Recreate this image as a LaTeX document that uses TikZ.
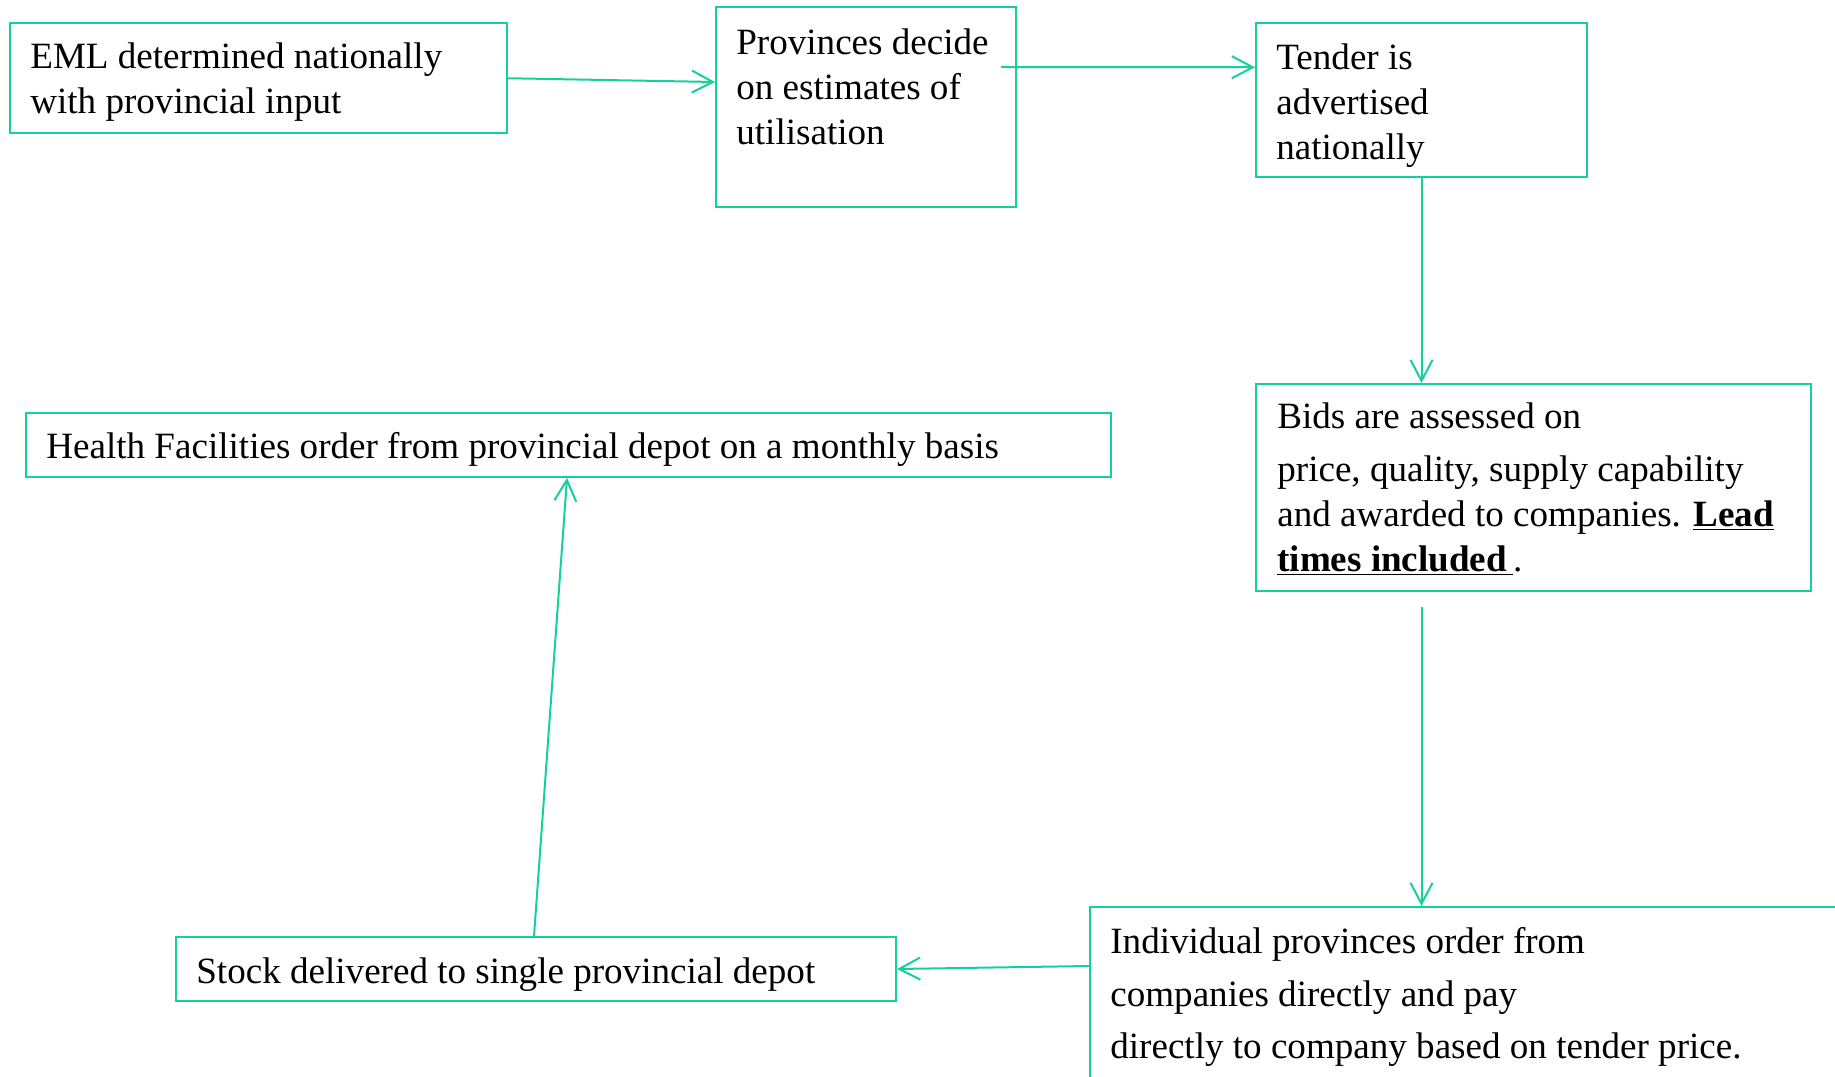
\documentclass[tikz,border=0pt]{standalone}
\usepackage{fontspec}
\setmainfont{Liberation Serif}
\usetikzlibrary{arrows.meta,calc}
\definecolor{flowgreen}{HTML}{14CF9F}
\tikzset{
  box/.style={draw=flowgreen, line width=0.4mm, anchor=north west, inner sep=0pt},
  txt/.style={anchor=north west, inner sep=0pt, align=left, font=\fontsize{21.1pt}{25.6pt}\selectfont},
  flow/.style={draw=flowgreen, line width=0.4mm, -{Straight Barb[length=4.2mm,width=4.4mm]}}
}
\begin{document}
\begin{tikzpicture}[x=0.2mm, y=-0.2mm]
  \useasboundingbox (0,0) rectangle (1835,1077);
  \clip (0,0) rectangle (1835,1077);
  % Boxes
  \node[box, minimum width=99.4mm, minimum height=21.9mm] (eml) at (9,22.5) {};
  \node[box, minimum width=60mm, minimum height=40mm] (prov) at (715,6) {};
  \node[box, minimum width=66.2mm, minimum height=30.7mm] (tender) at (1255,22.5) {};
  \node[box, minimum width=111mm, minimum height=41.4mm] (bids) at (1255,383) {};
  \node[box, minimum width=154.2mm, minimum height=38.8mm] (indiv) at (1089,906) {};
  \node[box, minimum width=144mm, minimum height=12.8mm] (stock) at (175,936) {};
  \node[box, minimum width=216.9mm, minimum height=12.8mm] (health) at (25,412) {};
  % Texts
  \node[txt] (emltext) at ([shift={(21,14)}]eml.north west)
    {\strut EML determined nationally\\ with provincial input};
  \node[txt] (provtext) at ([shift={(21,17)}]prov.north west)
    {\strut Provinces decide\\ on estimates of\\ utilisation};
  \node[txt] (tendertext) at ([shift={(21,15)}]tender.north west)
    {\strut Tender is\\ advertised\\ nationally};
  \node[txt] (bidstext) at ([shift={(22,14)}]bids.north west)
    {\strut Bids are assessed on\\[1.6mm] price, quality, supply capability\\ and awarded to companies. \underline{\textbf{Lead}}\\ \underline{\textbf{times included}\,}.};
  \node[txt] (indivtext) at ([shift={(21,16)}]indiv.north west)
    {\strut Individual provinces order from\\[1.5mm] companies directly and pay\\[1.4mm] directly to company based on tender price.};
  \node[txt] (stocktext) at ([shift={(21,16)}]stock.north west)
    {\strut Stock delivered to single provincial depot};
  \node[txt] (healthtext) at ([shift={(21,15)}]health.north west)
    {\strut Health Facilities order from provincial depot on a monthly basis};
  % Arrows
  \draw[flow] (eml.east) -- ([yshift=5mm]prov.west);
  \draw[flow] ([xshift=-3.2mm,yshift=8mm]prov.east) -- ([yshift=6.6mm]tender.west);
  \draw[flow] (tender.south) -- (tender.south |- bids.north);
  \draw[flow] ($(tender.south |- bids.south)+(0,15)$) -- (tender.south |- indiv.north);
  \draw[flow] ([yshift=-12mm]indiv.north west) -- (stock.east);
  \draw[flow] ([xshift=71.8mm]stock.north west) -- ([xshift=108.4mm]health.south west);
\end{tikzpicture}
\end{document}
